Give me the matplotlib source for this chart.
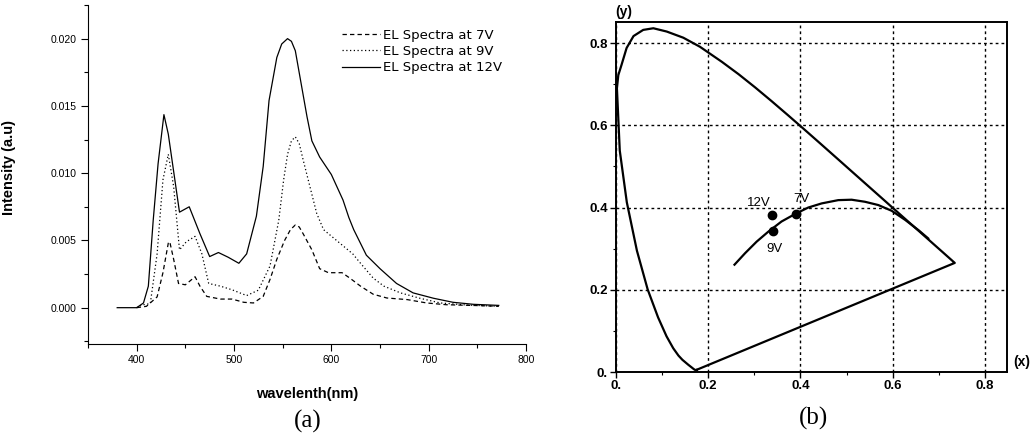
import matplotlib
matplotlib.use("Agg")
import matplotlib.pyplot as plt
from matplotlib.ticker import MultipleLocator, FixedLocator, FixedFormatter

plt.rcParams["font.family"] = ["Liberation Sans", "DejaVu Sans"]

# ---------- (a) EL spectra ----------
wl_7 = [400, 410, 421, 427, 432.5, 434, 438, 443, 450, 460, 465, 472, 486, 498,
        510, 520, 530, 537, 544, 552, 558, 563, 567, 571, 580, 588, 597, 611,
        619, 630, 643, 657, 678, 698, 718, 753, 772]
int_7 = [0, 0.0001, 0.0008, 0.0026, 0.0048, 0.0049, 0.0036, 0.0018, 0.0017,
         0.0023, 0.0016, 0.00084, 0.00064, 0.00064, 0.0004, 0.00035, 0.00084,
         0.0021, 0.0036, 0.005, 0.0058, 0.00615, 0.006, 0.0055, 0.0043, 0.0029,
         0.0026, 0.0026, 0.0022, 0.0016, 0.001, 0.00072, 0.0006, 0.00035,
         0.00022, 0.00015, 0.0001]

wl_9 = [400, 405, 414, 421, 427, 432.5, 438, 444, 451, 460, 467, 474, 486, 498,
        513, 525, 537, 546, 551, 555, 559, 563, 567, 571, 578, 585, 592, 622,
        630, 643, 654, 671, 691, 712, 739, 772]
int_9 = [0, 0.0002, 0.0003, 0.004, 0.0095, 0.0114, 0.009, 0.0043, 0.0049,
         0.0053, 0.0040, 0.0018, 0.0016, 0.00133, 0.0009, 0.0013, 0.0031,
         0.0065, 0.0095, 0.0114, 0.0124, 0.0127, 0.0122, 0.0110, 0.009, 0.0070,
         0.0058, 0.004, 0.0033, 0.0022, 0.0016, 0.0011, 0.0007, 0.00035,
         0.0002, 0.0001]

wl_12 = [380, 400, 407, 412, 417, 422, 428, 432.5, 444, 454, 465, 475, 484, 494,
         505, 513, 523, 530, 536, 544, 549, 555, 559, 563, 575, 580, 588, 600,
         612, 618, 623, 636, 650, 667, 684, 705, 725, 746, 772]
int_12 = [0, 0, 0.00035, 0.0016, 0.0065, 0.0107, 0.01435, 0.0129, 0.0071,
          0.0075, 0.0055, 0.0038, 0.0041, 0.00375, 0.0033, 0.0040, 0.0068,
          0.0105, 0.0154, 0.0186, 0.0196, 0.0200, 0.0198, 0.0191, 0.0142,
          0.0124, 0.0112, 0.0099, 0.0080, 0.0067, 0.0058, 0.0039, 0.0029,
          0.0018, 0.0011, 0.0007, 0.0004, 0.00025, 0.00017]

# ---------- (b) CIE 1931 diagram ----------
locus_x = [0.17411, 0.17380, 0.17334, 0.17258, 0.17141, 0.16888, 0.16441,
           0.15664, 0.14396, 0.13550, 0.12412, 0.10959, 0.09129, 0.06871,
           0.04539, 0.02346, 0.00817, 0.0020, 0.005, 0.012, 0.023, 0.038,
           0.059, 0.081, 0.110, 0.146, 0.182, 0.22962, 0.26578, 0.30160,
           0.33736, 0.37310, 0.40874, 0.44406, 0.47877, 0.51249, 0.54479,
           0.57515, 0.60293, 0.62704, 0.64823, 0.66576, 0.69150, 0.70792,
           0.71903, 0.72599, 0.73032, 0.73439, 0.73469, 0.17411]
locus_y = [0.00496, 0.00492, 0.00480, 0.00480, 0.00510, 0.00690, 0.01086,
           0.01771, 0.02970, 0.03988, 0.05780, 0.08684, 0.13270, 0.20072,
           0.29498, 0.41270, 0.53842, 0.690, 0.722, 0.747, 0.788, 0.817,
           0.832, 0.836, 0.828, 0.813, 0.791, 0.75433, 0.72432, 0.69231,
           0.65885, 0.62445, 0.58961, 0.55471, 0.52020, 0.48659, 0.45443,
           0.42423, 0.39650, 0.37249, 0.35139, 0.33401, 0.30834, 0.29203,
           0.28093, 0.27401, 0.26967, 0.26561, 0.26531, 0.00496]

bb_x = [0.257, 0.280, 0.305, 0.330, 0.359, 0.388, 0.417, 0.446, 0.482, 0.511,
        0.540, 0.569, 0.598, 0.627, 0.656, 0.677]
bb_y = [0.261, 0.289, 0.317, 0.341, 0.366, 0.384, 0.400, 0.410, 0.418, 0.419,
        0.414, 0.406, 0.392, 0.370, 0.345, 0.325]

pt_names = ["12V", "9V", "7V"]
pt_x = [0.339, 0.340, 0.390]
pt_y = [0.381, 0.344, 0.385]
lbl_x = [0.309, 0.343, 0.403]
lbl_y = [0.411, 0.298, 0.420]

W, H = 1031, 436
fig = plt.figure(figsize=(W / 100, H / 100), dpi=100)

# ---- panel (a)
ax1 = fig.add_axes([88 / W, 1 - 344 / H, 438 / W, 339 / H])
ax1.plot(wl_7, int_7, color="black", lw=0.9, ls=(0, (3.5, 2.5)),
         label="EL Spectra at 7V")
ax1.plot(wl_9, int_9, color="black", lw=0.9, ls=(0, (1, 2)),
         label="EL Spectra at 9V")
ax1.plot(wl_12, int_12, color="black", lw=0.9, label="EL Spectra at 12V")
ax1.set_xlim(350, 800)
ax1.set_ylim(-0.0027, 0.0225)
ax1.spines["top"].set_visible(False)
ax1.spines["right"].set_visible(False)
ax1.xaxis.set_major_locator(MultipleLocator(100))
ax1.xaxis.set_minor_locator(MultipleLocator(50))
ax1.yaxis.set_major_locator(FixedLocator([0, 0.005, 0.01, 0.015, 0.02]))
ax1.yaxis.set_major_formatter(FixedFormatter(["0.000", "0.005", "0.010",
                                              "0.015", "0.020"]))
ax1.yaxis.set_minor_locator(MultipleLocator(0.0025))
ax1.tick_params(which="major", length=5, width=0.8, labelsize=7.5, pad=3)
ax1.tick_params(which="minor", length=3, width=0.8)
ax1.set_xlabel("wavelenth(nm)", fontsize=10.5, fontweight="bold")
ax1.set_ylabel("Intensity (a.u)", fontsize=10.5, fontweight="bold")
ax1.xaxis.set_label_coords(0.5, -0.127)
ax1.yaxis.set_label_coords(-0.164, 0.52)
ax1.legend(loc="upper left", bbox_to_anchor=(0.58, 0.93), frameon=False,
           handlelength=2.9, handletextpad=0.2,
           labelspacing=0.25, borderpad=0, borderaxespad=0,
           prop={"family": "DejaVu Sans", "size": 9.5})

# ---- panel (b)
ax2 = fig.add_axes([616 / W, 1 - 372 / H, 391 / W, 349.5 / H])
ax2.plot(locus_x, locus_y, color="black", lw=1.6, solid_joinstyle="round")
ax2.plot(bb_x, bb_y, color="black", lw=1.6, solid_joinstyle="round")
ax2.plot(pt_x, pt_y, "o", color="black", ms=6)
for name, lx, ly in zip(pt_names, lbl_x, lbl_y):
    ax2.text(lx, ly, name, fontsize=9.5, ha="center", va="center")
ax2.set_xlim(0, 0.848)
ax2.set_ylim(0, 0.85)
ticks = [0, 0.2, 0.4, 0.6, 0.8]
tick_lbls = ["0.", "0.2", "0.4", "0.6", "0.8"]
ax2.xaxis.set_major_locator(FixedLocator(ticks))
ax2.xaxis.set_major_formatter(FixedFormatter(tick_lbls))
ax2.yaxis.set_major_locator(FixedLocator(ticks))
ax2.yaxis.set_major_formatter(FixedFormatter(tick_lbls))
ax2.xaxis.set_minor_locator(MultipleLocator(0.1))
ax2.yaxis.set_minor_locator(MultipleLocator(0.1))
ax2.tick_params(which="major", length=4, width=1.0, labelsize=9.5, pad=2)
ax2.tick_params(which="minor", length=2.5, width=0.8)
for lab in ax2.get_xticklabels() + ax2.get_yticklabels():
    lab.set_fontweight("bold")
for sp in ax2.spines.values():
    sp.set_linewidth(1.4)
ax2.grid(True, which="major", color="black", lw=1.0, ls=(0, (2, 2.2)))

fig.text(624 / W, 1 - 12 / H, "(y)", fontsize=10, fontweight="bold",
         ha="center", va="center")
fig.text(1022 / W, 1 - 362 / H, "(x)", fontsize=10, fontweight="bold",
         ha="center", va="center")
fig.text(308 / W, 1 - 421 / H, "(a)", fontsize=18, family="Liberation Serif",
         ha="center", va="center")
fig.text(814 / W, 1 - 418 / H, "(b)", fontsize=18, family="Liberation Serif",
         ha="center", va="center")

fig.savefig("out.png", dpi=100)
